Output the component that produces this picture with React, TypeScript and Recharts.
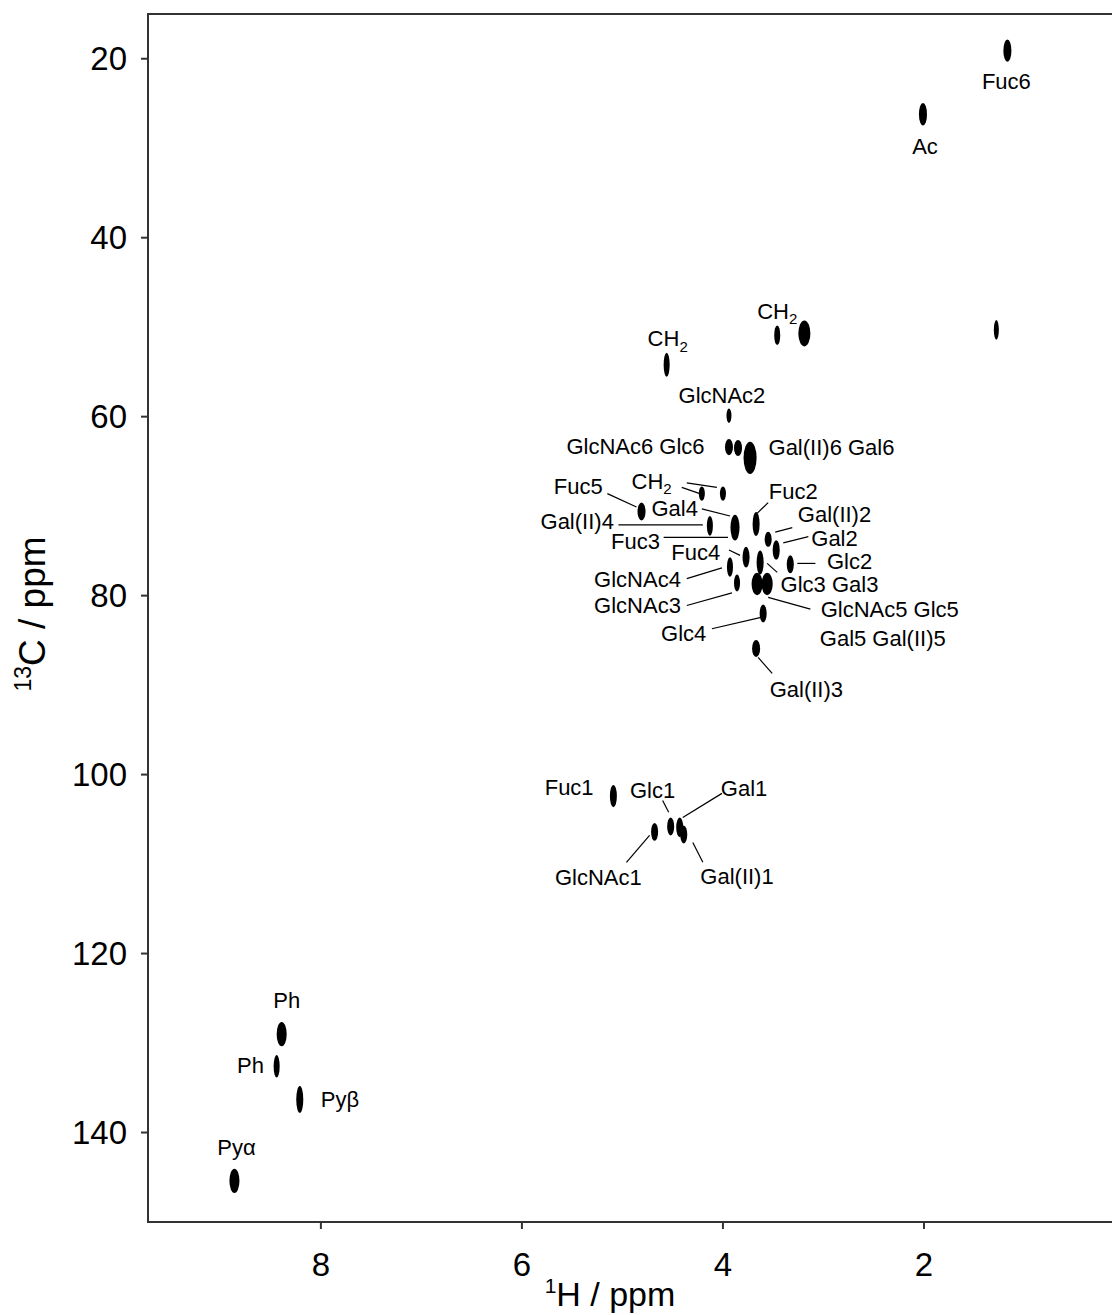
import { ScatterChart, Scatter, XAxis, YAxis, ReferenceLine, ReferenceArea } from "recharts"

const FONT = '"Liberation Sans", Arial, Helvetica, sans-serif'

// axis ranges (ppm)
const H_RANGE = [0, 9.72]
const C_RANGE = [15, 150]
const H_TICKS = [8, 6, 4, 2]
const C_TICKS = [20, 40, 60, 80, 100, 120, 140]

// cross peaks: 1H shift, 13C shift, width in 1H, width in 13C (all ppm)
const methylPeaks = [
  { h: 1.17, c: 19.1, wh: 0.08, wc: 2.5 },
  { h: 2.01, c: 26.2, wh: 0.08, wc: 2.5 },
  { h: 1.28, c: 50.3, wh: 0.05, wc: 2.2 },
  { h: 3.46, c: 50.9, wh: 0.06, wc: 2.2 },
  { h: 3.19, c: 50.7, wh: 0.12, wc: 2.9 },
  { h: 4.56, c: 54.2, wh: 0.06, wc: 2.7 },
]

const ringPeaks = [
  { h: 3.94, c: 59.9, wh: 0.05, wc: 1.6 },
  { h: 3.94, c: 63.4, wh: 0.08, wc: 1.8 },
  { h: 3.85, c: 63.5, wh: 0.08, wc: 1.8 },
  { h: 3.73, c: 64.6, wh: 0.13, wc: 3.6 },
  { h: 4.21, c: 68.6, wh: 0.06, wc: 1.6 },
  { h: 4.0, c: 68.6, wh: 0.06, wc: 1.6 },
  { h: 4.81, c: 70.6, wh: 0.08, wc: 2.0 },
  { h: 4.13, c: 72.2, wh: 0.06, wc: 2.2 },
  { h: 3.88, c: 72.4, wh: 0.09, wc: 2.9 },
  { h: 3.67, c: 72.0, wh: 0.07, wc: 2.7 },
  { h: 3.55, c: 73.7, wh: 0.07, wc: 1.7 },
  { h: 3.47, c: 74.9, wh: 0.07, wc: 2.2 },
  { h: 3.33, c: 76.5, wh: 0.07, wc: 2.0 },
  { h: 3.77, c: 75.7, wh: 0.07, wc: 2.3 },
  { h: 3.63, c: 76.3, wh: 0.07, wc: 2.7 },
  { h: 3.66, c: 78.7, wh: 0.11, wc: 2.5 },
  { h: 3.56, c: 78.7, wh: 0.11, wc: 2.5 },
  { h: 3.93, c: 76.8, wh: 0.06, wc: 2.2 },
  { h: 3.86, c: 78.6, wh: 0.06, wc: 1.9 },
  { h: 3.6, c: 82.0, wh: 0.07, wc: 2.0 },
  { h: 3.67, c: 85.9, wh: 0.08, wc: 1.9 },
]

const anomericPeaks = [
  { h: 5.09, c: 102.4, wh: 0.07, wc: 2.5 },
  { h: 4.68, c: 106.4, wh: 0.07, wc: 2.0 },
  { h: 4.52, c: 105.8, wh: 0.07, wc: 2.0 },
  { h: 4.43, c: 105.9, wh: 0.07, wc: 2.2 },
  { h: 4.39, c: 106.7, wh: 0.07, wc: 2.0 },
]

const aromaticPeaks = [
  { h: 8.39, c: 129.0, wh: 0.1, wc: 2.7 },
  { h: 8.44, c: 132.6, wh: 0.06, wc: 2.5 },
  { h: 8.21, c: 136.3, wh: 0.07, wc: 3.0 },
  { h: 8.86, c: 145.4, wh: 0.1, wc: 2.7 },
]

// assignments, placed in ppm
const labels = [
  { text: "Fuc6", h: 1.18, c: 22.5 },
  { text: "Ac", h: 1.99, c: 29.8 },
  { text: "CH", sub: "2", h: 3.46, c: 48.2 },
  { text: "CH", sub: "2", h: 4.55, c: 51.3 },
  { text: "GlcNAc2", h: 4.01, c: 57.6 },
  { text: "GlcNAc6 Glc6", h: 4.87, c: 63.3 },
  { text: "Gal(II)6 Gal6", h: 2.92, c: 63.5 },
  { text: "Fuc5", h: 5.44, c: 67.8 },
  { text: "CH", sub: "2", h: 4.71, c: 67.2 },
  { text: "Gal(II)4", h: 5.45, c: 71.7 },
  { text: "Gal4", h: 4.48, c: 70.3 },
  { text: "Fuc3", h: 4.87, c: 73.9 },
  { text: "Fuc2", h: 3.3, c: 68.4 },
  { text: "Gal(II)2", h: 2.89, c: 70.9 },
  { text: "Gal2", h: 2.89, c: 73.6 },
  { text: "Glc2", h: 2.74, c: 76.2 },
  { text: "Fuc4", h: 4.27, c: 75.2 },
  { text: "GlcNAc4", h: 4.85, c: 78.2 },
  { text: "Glc3 Gal3", h: 2.94, c: 78.8 },
  { text: "GlcNAc3", h: 4.85, c: 81.1 },
  { text: "GlcNAc5 Glc5", h: 2.34, c: 81.6 },
  { text: "Glc4", h: 4.39, c: 84.2 },
  { text: "Gal5 Gal(II)5", h: 2.41, c: 84.8 },
  { text: "Gal(II)3", h: 3.17, c: 90.5 },
  { text: "Fuc1", h: 5.53, c: 101.4 },
  { text: "Glc1", h: 4.7, c: 101.8 },
  { text: "Gal1", h: 3.79, c: 101.5 },
  { text: "GlcNAc1", h: 5.24, c: 111.5 },
  { text: "Gal(II)1", h: 3.86, c: 111.4 },
  { text: "Ph", h: 8.34, c: 125.2 },
  { text: "Ph", h: 8.7, c: 132.5 },
  { text: "Pyβ", h: 7.81, c: 136.3 },
  { text: "Pyα", h: 8.84, c: 141.7 },
]

// leader lines from label to peak
const leaders = [
  [4.36, 67.4, 4.06, 67.9],
  [4.41, 67.9, 4.23, 68.6],
  [5.15, 68.6, 4.86, 70.1],
  [5.04, 72.1, 4.2, 72.1],
  [4.21, 70.3, 3.93, 71.1],
  [4.59, 73.5, 3.95, 73.5],
  [3.55, 69.6, 3.66, 70.8],
  [3.31, 72.4, 3.48, 72.9],
  [3.15, 73.4, 3.4, 74.1],
  [3.08, 76.4, 3.26, 76.4],
  [3.94, 74.9, 3.83, 75.5],
  [4.36, 78.1, 4.01, 76.9],
  [3.46, 77.4, 3.56, 76.4],
  [4.36, 81.1, 3.91, 79.7],
  [3.13, 81.5, 3.55, 80.2],
  [4.11, 83.7, 3.61, 82.4],
  [3.65, 86.9, 3.51, 88.7],
  [4.6, 102.9, 4.54, 104.2],
  [4.01, 102.1, 4.4, 104.8],
  [4.96, 109.8, 4.73, 106.8],
  [4.3, 107.6, 4.2, 109.8],
]

const W = 1140
const H = 1315
const MARGIN = { top: 14, right: 15, bottom: 0, left: 0 }
const Y_AXIS_W = 148
const X_AXIS_H = 93
const PLOT_W = W - MARGIN.left - MARGIN.right - Y_AXIS_W
const PLOT_H = H - MARGIN.top - MARGIN.bottom - X_AXIS_H
const PX_PER_H = PLOT_W / (H_RANGE[1] - H_RANGE[0])
const PX_PER_C = PLOT_H / (C_RANGE[1] - C_RANGE[0])

const PeakShape = (props: any) => {
  const { cx, cy, payload } = props
  return (
    <ellipse cx={cx} cy={cy} rx={(payload.wh / 2) * PX_PER_H} ry={(payload.wc / 2) * PX_PER_C} fill="#000" />
  )
}

const LabelShape = (props: any) => {
  const { cx, cy, payload } = props
  return (
    <text x={cx} y={cy} textAnchor="middle" dominantBaseline="central" fontSize={22} fontFamily={FONT} fill="#000">
      {payload.text}
      {payload.sub && (
        <tspan dy={7} fontSize={15}>
          {payload.sub}
        </tspan>
      )}
    </text>
  )
}

const XTitle = ({ viewBox }: any) => (
  <text x={viewBox.x + 462} y={viewBox.y + 84} textAnchor="middle" fontSize={34} fontFamily={FONT} fill="#000">
    <tspan fontSize={21} dy={-13}>
      1
    </tspan>
    <tspan dy={13}>H / ppm</tspan>
  </text>
)

const YTitle = () => (
  <text
    x={45}
    y={614}
    transform="rotate(-90, 45, 614)"
    textAnchor="middle"
    fontSize={37}
    fontFamily={FONT}
    fill="#000"
  >
    <tspan fontSize={23} dy={-14}>
      13
    </tspan>
    <tspan dy={14}>C / ppm</tspan>
  </text>
)

export default function App() {
  const tick = { fill: "#000", fontSize: 33, fontFamily: FONT }
  return (
    <div style={{ position: "absolute", left: 0, top: 0, width: 1112, height: 1315, overflow: "hidden", background: "#fff" }}>
      <ScatterChart width={W} height={H} margin={MARGIN}>
        <XAxis
          type="number"
          dataKey="h"
          domain={H_RANGE}
          reversed
          allowDataOverflow
          ticks={H_TICKS}
          tick={tick}
          tickSize={7}
          tickMargin={24}
          height={X_AXIS_H}
          stroke="#333"
          strokeWidth={2}
          label={{ content: (p: any) => <XTitle {...p} /> }}
        />
        <YAxis
          type="number"
          dataKey="c"
          domain={C_RANGE}
          reversed
          allowDataOverflow
          ticks={C_TICKS}
          tick={tick}
          tickSize={7}
          tickMargin={14}
          width={Y_AXIS_W}
          stroke="#333"
          strokeWidth={2}
          label={{ content: () => <YTitle /> }}
        />
        <ReferenceArea
          x1={H_RANGE[0]}
          x2={H_RANGE[1]}
          y1={C_RANGE[0]}
          y2={C_RANGE[1]}
          fill="none"
          fillOpacity={0}
          stroke="#333"
          strokeWidth={2}
        />
        {leaders.map(([h1, c1, h2, c2], i) => (
          <ReferenceLine
            key={i}
            segment={[
              { x: h1, y: c1 },
              { x: h2, y: c2 },
            ]}
            stroke="#000"
            strokeWidth={1.2}
          />
        ))}
        <Scatter data={methylPeaks} shape={PeakShape} isAnimationActive={false} />
        <Scatter data={ringPeaks} shape={PeakShape} isAnimationActive={false} />
        <Scatter data={anomericPeaks} shape={PeakShape} isAnimationActive={false} />
        <Scatter data={aromaticPeaks} shape={PeakShape} isAnimationActive={false} />
        <Scatter data={labels} shape={LabelShape} isAnimationActive={false} />
      </ScatterChart>
    </div>
  )
}
